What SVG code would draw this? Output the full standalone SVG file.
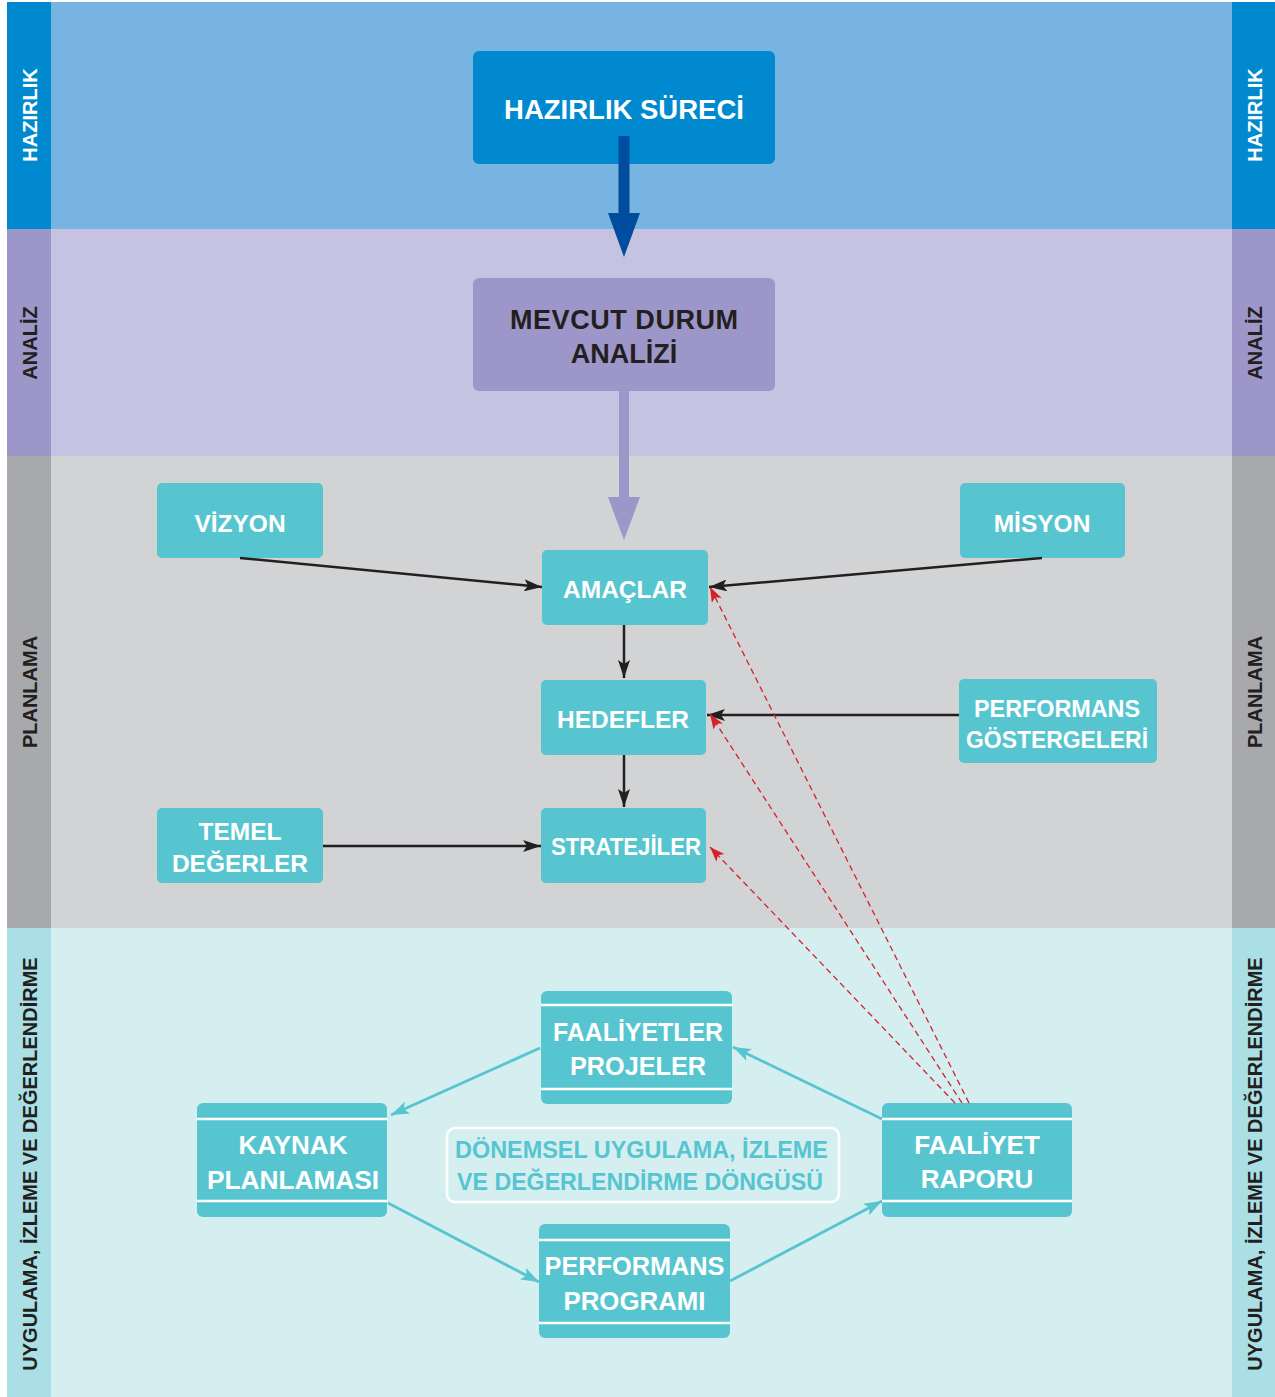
<svg xmlns="http://www.w3.org/2000/svg" width="1275" height="1397" viewBox="0 0 1275 1397">
<defs>
<style>
text{font-family:"Liberation Sans",Arial,sans-serif;font-weight:bold;text-anchor:middle}
.box{fill:#57C5D0}
.bt{fill:#FFFFFF;font-size:24.5px}
.bb{fill:#FFFFFF;font-size:26px}
.side{font-size:20px}
.wl{stroke:#FFFFFF;stroke-width:2.5}
.blk{stroke:#231F20;stroke-width:2.5;fill:none}
.red{stroke:#D6202A;stroke-width:1.3;stroke-dasharray:6 4;fill:none}
.cy{stroke:#57C5D0;stroke-width:2.8;fill:none}
</style>
<marker id="mb" markerUnits="userSpaceOnUse" markerWidth="20" markerHeight="12" refX="18" refY="6" orient="auto">
<path d="M0,0 L18,6 L0,12 L4,6 z" fill="#231F20"/>
</marker>
<marker id="mr" markerUnits="userSpaceOnUse" markerWidth="16" markerHeight="12" refX="15" refY="5.5" orient="auto">
<path d="M0,0 L15,5.5 L0,11 L3.5,5.5 z" fill="#D6202A"/>
</marker>
<marker id="mc" markerUnits="userSpaceOnUse" markerWidth="20" markerHeight="14" refX="18" refY="6.5" orient="auto">
<path d="M0,0 L18,6.5 L0,13 L4,6.5 z" fill="#57C5D0"/>
</marker>
</defs>
<rect x="0" y="0" width="1275" height="1397" fill="#FFFFFF"/>
<g id="bands">
<rect x="7" y="2" width="44" height="227" fill="#0089CF"/>
<rect x="51" y="2" width="1181" height="227" fill="#78B4E2"/>
<rect x="1232" y="2" width="43" height="227" fill="#0089CF"/>
<rect x="7" y="229" width="44" height="227" fill="#9D96C9"/>
<rect x="51" y="229" width="1181" height="227" fill="#C5C3E1"/>
<rect x="1232" y="229" width="43" height="227" fill="#9D96C9"/>
<rect x="7" y="456" width="44" height="472" fill="#A7A9AC"/>
<rect x="51" y="456" width="1181" height="472" fill="#D1D3D4"/>
<rect x="1232" y="456" width="43" height="472" fill="#A7A9AC"/>
<rect x="7" y="928" width="44" height="469" fill="#AADFE5"/>
<rect x="51" y="928" width="1181" height="469" fill="#D5EEF0"/>
<rect x="1232" y="928" width="43" height="469" fill="#AADFE5"/>
<text class="side" fill="#FFFFFF" transform="translate(37,115) rotate(-90)">HAZIRLIK</text>
<text class="side" fill="#FFFFFF" transform="translate(1262,115) rotate(-90)">HAZIRLIK</text>
<text class="side" fill="#231F20" transform="translate(37,343) rotate(-90)">ANALİZ</text>
<text class="side" fill="#231F20" transform="translate(1262,343) rotate(-90)">ANALİZ</text>
<text class="side" fill="#231F20" transform="translate(37,692) rotate(-90)">PLANLAMA</text>
<text class="side" fill="#231F20" transform="translate(1262,692) rotate(-90)">PLANLAMA</text>
<text class="side" fill="#231F20" transform="translate(37,1164) rotate(-90)">UYGULAMA, İZLEME VE DEĞERLENDİRME</text>
<text class="side" fill="#231F20" transform="translate(1262,1164) rotate(-90)">UYGULAMA, İZLEME VE DEĞERLENDİRME</text>
</g>
<g id="n-hazirlik">
<rect x="473" y="51" width="302" height="113" rx="6" fill="#0089CF"/>
<text x="624" y="119" fill="#FFFFFF" font-size="27.5">HAZIRLIK SÜRECİ</text>
</g>
<g id="n-mevcut">
<rect x="473" y="278" width="302" height="113" rx="6" fill="#9D96C9"/>
<text x="624" y="329" fill="#231F20" font-size="27" textLength="228">MEVCUT DURUM</text>
<text x="624" y="363" fill="#231F20" font-size="27">ANALİZİ</text>
</g>
<g id="n-vizyon">
<rect class="box" x="157" y="483" width="166" height="75" rx="5"/>
<text class="bt" x="240" y="532">VİZYON</text>
</g>
<g id="n-misyon">
<rect class="box" x="960" y="483" width="165" height="75" rx="5"/>
<text class="bt" x="1042" y="532">MİSYON</text>
</g>
<g id="n-amaclar">
<rect class="box" x="542" y="550" width="166" height="75" rx="5"/>
<text class="bt" x="625" y="598">AMAÇLAR</text>
</g>
<g id="n-hedefler">
<rect class="box" x="541" y="680" width="165" height="75" rx="5"/>
<text class="bt" x="623" y="728">HEDEFLER</text>
</g>
<g id="n-stratejiler">
<rect class="box" x="541" y="808" width="165" height="75" rx="5"/>
<text class="bt" x="626" y="855" textLength="150" lengthAdjust="spacingAndGlyphs">STRATEJİLER</text>
</g>
<g id="n-perfgost">
<rect class="box" x="959" y="679" width="198" height="84" rx="5"/>
<text class="bt" x="1057" y="717" textLength="166" lengthAdjust="spacingAndGlyphs">PERFORMANS</text>
<text class="bt" x="1057" y="748" textLength="182" lengthAdjust="spacingAndGlyphs">GÖSTERGELERİ</text>
</g>
<g id="n-temel">
<rect class="box" x="157" y="808" width="166" height="75" rx="5"/>
<text class="bt" x="240" y="840">TEMEL</text>
<text class="bt" x="240" y="872">DEĞERLER</text>
</g>
<g id="n-faaliyetler">
<rect class="box" x="541" y="991" width="191" height="113" rx="6"/>
<line class="wl" x1="541" y1="1005" x2="732" y2="1005"/>
<line class="wl" x1="541" y1="1089" x2="732" y2="1089"/>
<text class="bb" x="638" y="1041" textLength="170" lengthAdjust="spacingAndGlyphs">FAALİYETLER</text>
<text class="bb" x="638" y="1075" textLength="136" lengthAdjust="spacingAndGlyphs">PROJELER</text>
</g>
<g id="n-kaynak">
<rect class="box" x="197" y="1103" width="190" height="114" rx="6"/>
<line class="wl" x1="197" y1="1119" x2="387" y2="1119"/>
<line class="wl" x1="197" y1="1201" x2="387" y2="1201"/>
<text class="bb" x="293" y="1154">KAYNAK</text>
<text class="bb" x="293" y="1189" textLength="172" lengthAdjust="spacingAndGlyphs">PLANLAMASI</text>
</g>
<g id="n-faaliyetrapor">
<rect class="box" x="882" y="1103" width="190" height="114" rx="6"/>
<line class="wl" x1="882" y1="1119" x2="1072" y2="1119"/>
<line class="wl" x1="882" y1="1201" x2="1072" y2="1201"/>
<text class="bb" x="977" y="1154">FAALİYET</text>
<text class="bb" x="977" y="1188">RAPORU</text>
</g>
<g id="n-perfprog">
<rect class="box" x="539" y="1224" width="191" height="114" rx="6"/>
<line class="wl" x1="539" y1="1240" x2="730" y2="1240"/>
<line class="wl" x1="539" y1="1323" x2="730" y2="1323"/>
<text class="bb" x="634.5" y="1275" textLength="180" lengthAdjust="spacingAndGlyphs">PERFORMANS</text>
<text class="bb" x="634.5" y="1310" textLength="142" lengthAdjust="spacingAndGlyphs">PROGRAMI</text>
</g>
<g id="n-donem">
<rect x="447" y="1128" width="392" height="74" rx="8" fill="none" stroke="#FFFFFF" stroke-width="2.5"/>
<text x="641.5" y="1158" fill="#57C5D0" font-size="23" textLength="373" lengthAdjust="spacingAndGlyphs">DÖNEMSEL UYGULAMA, İZLEME</text>
<text x="640" y="1190" fill="#57C5D0" font-size="23" textLength="366" lengthAdjust="spacingAndGlyphs">VE DEĞERLENDİRME DÖNGÜSÜ</text>
</g>
<g id="connectors">
<rect x="618.5" y="136" width="11" height="78" fill="#004C9F"/>
<path d="M608,213 L640,213 L624,257 z" fill="#004C9F"/>
<rect x="619" y="391" width="10" height="107" fill="#9D96C9"/>
<path d="M608,497 L640,497 L624,540 z" fill="#9D96C9"/>
<line class="blk" x1="240" y1="558" x2="542" y2="587" marker-end="url(#mb)"/>
<line class="blk" x1="1042" y1="558" x2="709" y2="587" marker-end="url(#mb)"/>
<line class="blk" x1="624" y1="625" x2="624" y2="678" marker-end="url(#mb)"/>
<line class="blk" x1="624" y1="755" x2="624" y2="807" marker-end="url(#mb)"/>
<line class="blk" x1="959" y1="715" x2="707" y2="715" marker-end="url(#mb)"/>
<line class="blk" x1="323" y1="846" x2="541" y2="846" marker-end="url(#mb)"/>
<line class="red" x1="969" y1="1103" x2="710" y2="587" marker-end="url(#mr)"/>
<line class="red" x1="962" y1="1103" x2="710" y2="714" marker-end="url(#mr)"/>
<line class="red" x1="955" y1="1103" x2="710" y2="847" marker-end="url(#mr)"/>
<line class="cy" x1="540" y1="1048" x2="391" y2="1115" marker-end="url(#mc)"/>
<line class="cy" x1="882" y1="1119" x2="733" y2="1047" marker-end="url(#mc)"/>
<line class="cy" x1="388" y1="1203" x2="539" y2="1282" marker-end="url(#mc)"/>
<line class="cy" x1="730" y1="1281" x2="882" y2="1201" marker-end="url(#mc)"/>
</g>
</svg>
